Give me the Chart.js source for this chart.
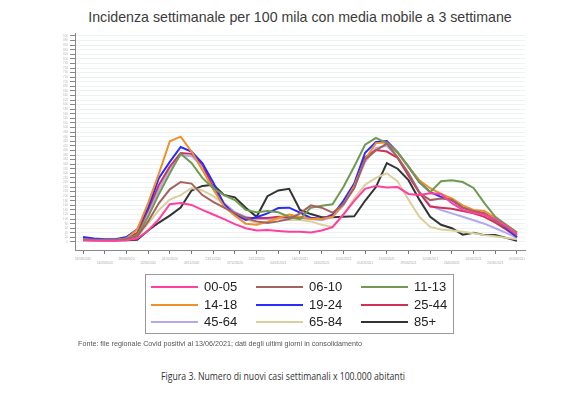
<!DOCTYPE html>
<html>
<head>
<meta charset="utf-8">
<script src="https://cdn.jsdelivr.net/npm/chart.js@4"></script>
<style>
  body { margin: 0; background: #fff; width: 569px; height: 397px; position: relative; overflow: hidden; font-family: "Liberation Sans", Arial, sans-serif; }
  #title { position: absolute; top: 9px; left: 0; width: 600px; text-align: center; font-size: 14.2px; color: #3c3c3c; }
  #wrap { position: absolute; left: 0; top: 0; width: 569px; height: 275px; }
  #legend { position: absolute; left: 145px; top: 274px; width: 307px; height: 58px; border: 1px solid #999; }
  .item { position: absolute; height: 16px; }
  .item span.ln { position: absolute; left: 0; top: 7px; width: 47px; height: 2px; }
  .item span.tx { position: absolute; left: 53px; top: 0; font-size: 13px; color: #222; line-height: 16px; white-space: nowrap; }
  #source { position: absolute; left: 78px; top: 339px; font-size: 7.2px; color: #555; white-space: nowrap; }
  #caption { position: absolute; top: 368px; left: 0; width: 566px; text-align: center; font-size: 11px; color: #333;
    font-family: "Open Sans", "Liberation Sans", sans-serif; transform: scaleX(0.79); transform-origin: 283px 0; }
</style>
</head>
<body>
<div id="title">Incidenza settimanale per 100 mila con media mobile a 3 settimane</div>
<div id="wrap"><canvas id="chart" width="569" height="275"></canvas></div>
<div id="legend"></div>
<div id="source">Fonte: file regionale Covid positivi al 13/06/2021; dati degli ultimi giorni in consolidamento</div>
<div id="caption">Figura 3. Numero di nuovi casi settimanali x 100.000 abitanti</div>

<script>
// tick labels on the x axis, one every two weeks (data is weekly)
const tickDates = ['31/08/2020', '14/09/2020', '28/09/2020', '12/10/2020', '26/10/2020',
  '09/11/2020', '23/11/2020', '07/12/2020', '21/12/2020', '04/01/2021', '18/01/2021',
  '01/02/2021', '15/02/2021', '01/03/2021', '15/03/2021', '29/03/2021', '12/04/2021',
  '26/04/2021', '10/05/2021', '24/05/2021', '07/06/2021'];

const ageGroups = ['00-05', '06-10', '11-13', '14-18', '19-24', '25-44', '45-64', '65-84', '85+'];
const groupColors = ['#ff40a0', '#a4625f', '#6f9a4f', '#f0902c', '#2b2bff', '#d03058', '#b2aaf0', '#d9d09c', '#333333'];

// weekly incidence per 100k, 31/08/2020 .. 07/06/2021
const age00_05 = [8, 6, 5, 5, 8, 15, 50, 100, 165, 170, 162, 140, 120, 100, 78, 60, 50, 52, 48, 45, 45,
  42, 50, 65, 120, 180, 232, 245, 238, 240, 210, 205, 213, 210, 170, 140, 128, 118, 100, 70, 35];
const age06_10 = [10, 8, 8, 8, 12, 25, 90, 170, 230, 262, 255, 205, 175, 150, 127, 105, 90, 83, 90, 100, 125,
  160, 150, 128, 165, 235, 360, 400, 430, 370, 300, 215, 183, 190, 185, 150, 135, 125, 90, 65, 30];
const age11_13 = [12, 10, 10, 10, 15, 30, 110, 210, 300, 385, 345, 280, 235, 205, 183, 140, 130, 135, 130, 110, 100,
  150, 158, 165, 240, 330, 425, 455, 432, 390, 330, 262, 218, 265, 270, 262, 236, 170, 110, 75, 42];
const age14_18 = [10, 8, 8, 8, 15, 55, 170, 300, 440, 460, 395, 315, 230, 155, 115, 80, 75, 88, 105, 120, 110,
  100, 100, 110, 165, 245, 360, 432, 435, 390, 328, 270, 235, 210, 190, 160, 140, 135, 105, 75, 40];
const age19_24 = [22, 15, 12, 12, 22, 55, 150, 280, 350, 415, 395, 345, 260, 165, 120, 96, 108, 125, 148, 150, 128,
  105, 100, 115, 180, 255, 390, 437, 441, 393, 328, 262, 218, 197, 183, 150, 135, 125, 96, 60, 22];
const age25_44 = [12, 10, 8, 8, 15, 40, 140, 250, 330, 389, 385, 340, 236, 160, 120, 105, 105, 105, 110, 108, 108,
  105, 100, 120, 170, 250, 370, 402, 395, 367, 290, 215, 155, 150, 145, 135, 125, 110, 85, 55, 22];
const age45_64 = [14, 12, 10, 10, 15, 35, 120, 230, 320, 380, 375, 330, 240, 170, 130, 110, 100, 100, 105, 105, 105,
  100, 95, 110, 160, 240, 350, 410, 420, 370, 300, 220, 160, 140, 125, 110, 95, 80, 60, 40, 18];
const age65_84 = [8, 8, 6, 6, 10, 25, 80, 140, 185, 205, 236, 225, 200, 165, 130, 100, 83, 90, 100, 96, 96,
  90, 75, 66, 120, 190, 250, 280, 300, 265, 185, 110, 66, 55, 50, 45, 38, 30, 25, 18, 12];
const age85plus = [8, 8, 8, 8, 8, 10, 50, 85, 115, 150, 225, 245, 250, 205, 195, 150, 110, 200, 225, 232, 140,
  122, 108, 108, 110, 112, 180, 240, 345, 320, 270, 185, 110, 75, 60, 32, 40, 30, 30, 18, 5];

const seriesValues = [age00_05, age06_10, age11_13, age14_18, age19_24, age25_44, age45_64, age65_84, age85plus];

const yTickValues = [];
for (let v = 0; v <= 900; v += 20) yTickValues.push(v);

function buildLegend() {
  const box = document.getElementById('legend');
  ageGroups.forEach((name, i) => {
    const row = Math.floor(i / 3), col = i % 3;
    const el = document.createElement('div');
    el.className = 'item';
    el.style.left = (5 + col * 105) + 'px';
    el.style.top = (4 + row * 17.5) + 'px';
    el.innerHTML = '<span class="ln" style="background:' + groupColors[i] + '"></span>' +
      '<span class="tx">' + name + '</span>';
    box.appendChild(el);
  });
}

function initChart() {
  const datasets = ageGroups.map((name, i) => ({
    label: name,
    data: seriesValues[i].map((v, k) => ({ x: k, y: v })),
    borderColor: groupColors[i],
    backgroundColor: groupColors[i],
    borderWidth: 2,
    pointRadius: 0,
    tension: 0,
    fill: false
  }));

  new Chart(document.getElementById('chart'), {
    type: 'line',
    data: { datasets },
    options: {
      responsive: false,
      animation: false,
      devicePixelRatio: 1,
      layout: { padding: { top: 33, right: 44, left: 0, bottom: 0 } },
      plugins: { legend: { display: false }, tooltip: { enabled: false }, title: { display: false } },
      scales: {
        x: {
          type: 'linear',
          min: -0.74,
          max: 40.74,
          afterBuildTicks: s => { s.ticks = tickDates.map((d, k) => ({ value: k * 2 })); },
          afterFit: s => { s.height = 25; },
          ticks: {
            autoSkip: false,
            maxRotation: 0,
            minRotation: 0,
            padding: 3,
            color: '#aaa',
            font: { size: 3.2, family: 'Liberation Sans' },
            callback: v => {
              const k = Math.round(v / 2);
              return k % 2 ? ['', tickDates[k]] : tickDates[k];
            }
          },
          grid: { drawOnChartArea: false, tickLength: 4, tickColor: '#777' },
          border: { color: '#888' }
        },
        y: {
          min: -35,
          max: 913,
          afterBuildTicks: s => { s.ticks = yTickValues.map(v => ({ value: v })); },
          afterFit: s => { s.width = 75; },
          ticks: { autoSkip: false, padding: 2, color: '#bbb', font: { size: 3, family: 'Liberation Sans' } },
          grid: { color: '#edf3f3', tickLength: 5, tickColor: '#888' },
          border: { color: '#888' }
        }
      }
    }
  });
}

buildLegend();
initChart();
</script>
</body>
</html>
